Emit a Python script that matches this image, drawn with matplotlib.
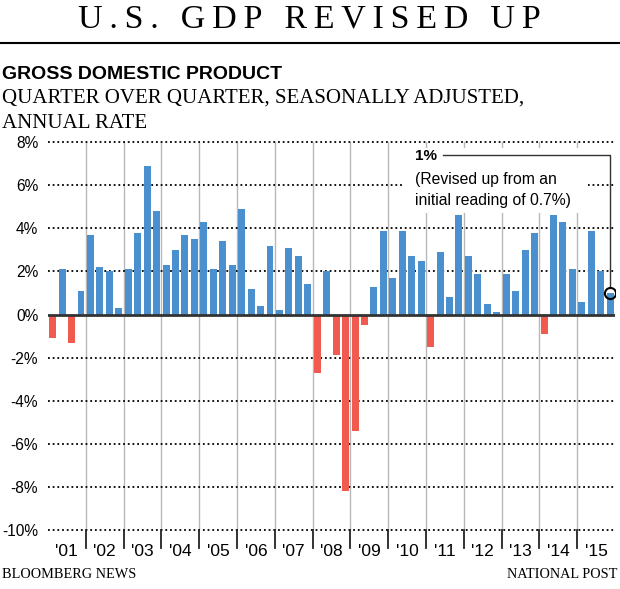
import numpy as np
import matplotlib.pyplot as plt
from matplotlib.lines import Line2D
from matplotlib.patches import Rectangle

# quarterly GDP growth, 2001 Q1 .. 2015 Q4 (annual rate, %)
year_labels = ["'01", "'02", "'03", "'04", "'05", "'06", "'07", "'08",
               "'09", "'10", "'11", "'12", "'13", "'14", "'15"]
gdp_growth = [
    -1.1, 2.1, -1.3, 1.1,
    3.7, 2.2, 2.0, 0.3,
    2.1, 3.8, 6.9, 4.8,
    2.3, 3.0, 3.7, 3.5,
    4.3, 2.1, 3.4, 2.3,
    4.9, 1.2, 0.4, 3.2,
    0.2, 3.1, 2.7, 1.4,
    -2.7, 2.0, -1.9, -8.2,
    -5.4, -0.5, 1.3, 3.9,
    1.7, 3.9, 2.7, 2.5,
    -1.5, 2.9, 0.8, 4.6,
    2.7, 1.9, 0.5, 0.1,
    1.9, 1.1, 3.0, 3.8,
    -0.9, 4.6, 4.3, 2.1,
    0.6, 3.9, 2.0, 1.0,
]
y_ticks = [-10, -8, -6, -4, -2, 0, 2, 4, 6, 8]

BLUE = '#4a8fce'
RED = '#f15a4f'
SANS = ['Liberation Sans', 'DejaVu Sans']
SERIF = ['Liberation Serif', 'DejaVu Serif']

plt.rcParams['font.family'] = SANS

fig = plt.figure(figsize=(6.2, 5.89), dpi=100)
ax = fig.add_axes([0.0773, 0.1002, 0.9145, 0.6583])

x = np.arange(len(gdp_growth))
colors = [BLUE if v >= 0 else RED for v in gdp_growth]
ax.bar(x, gdp_growth, width=0.74, color=colors, zorder=3)

ax.set_xlim(-0.5, len(gdp_growth) - 0.5)
ax.set_ylim(y_ticks[0], y_ticks[-1])

# dotted grid + solid zero line
for v in y_ticks:
    if v != 0:
        ax.axhline(v, color='black', lw=1.3, ls=(0, (1, 1.6)), zorder=1, clip_on=False)
ax.axhline(0, color='#333333', lw=2, zorder=4)

# year separators, ticks and labels
for k, lab in enumerate(year_labels):
    if k > 0:
        b = 4 * k - 0.5
        ax.plot([b, b], [y_ticks[0], y_ticks[-1]], color='#b8b8b8', lw=1, zorder=0)
        ax.plot([b, b], [y_ticks[0], y_ticks[0] - 0.85], color='#222222', lw=1.3,
                clip_on=False)
    ax.text(4 * k + 1.5, -11.0, lab, ha='center', va='center', fontsize=12.5)

ax.set_yticks(y_ticks)
ax.set_yticklabels([f'{v}%' for v in y_ticks])
ax.tick_params(axis='y', length=0, pad=7, labelsize=11.2)
ax.set_xticks([])
for s in ax.spines.values():
    s.set_visible(False)

# annotation for the latest quarter
last = len(gdp_growth) - 1
ax.add_patch(Rectangle((37.1, 4.72), 19.5, 3.0, fc='white', ec='none', zorder=2))
ax.text(38.35, 7.36, '1%', fontsize=11, fontweight='bold', va='center', ha='left', zorder=5)
ax.text(38.35, 6.29, '(Revised up from an', fontsize=11.3, va='center', ha='left', zorder=5)
ax.text(38.35, 5.31, 'initial reading of 0.7%)', fontsize=11.3, va='center', ha='left',
        zorder=5)
ax.plot([41.3, last, last], [7.41, 7.41, gdp_growth[last] + 0.25], color='#333333',
        lw=1, zorder=5)
ax.plot(last, gdp_growth[last], 'o', ms=8, mfc='none', mec='black', mew=1.5, zorder=6)

# header
fig.text(0.499, 0.954, '\u2009'.join('U.S. GDP REVISED UP'), ha='center', va='baseline',
         fontsize=24.5, family=SERIF)
fig.add_artist(Line2D([0, 1], [0.9275, 0.9275], color='black', lw=1.5))
fig.text(0.003, 0.8659, 'GROSS DOMESTIC PRODUCT', fontsize=14, fontweight='bold',
         va='baseline', ha='left')
fig.text(0.003, 0.8251, 'QUARTER OVER QUARTER, SEASONALLY ADJUSTED,', fontsize=15,
         va='baseline', ha='left', family=SERIF)
fig.text(0.003, 0.7827, 'ANNUAL RATE', fontsize=15, va='baseline', ha='left', family=SERIF)

# footer
fig.text(0.003, 0.0182, 'BLOOMBERG NEWS', fontsize=10.3, va='baseline', ha='left', family=SERIF)
fig.text(0.995, 0.0182, 'NATIONAL POST', fontsize=10.3, va='baseline', ha='right', family=SERIF)

fig.savefig('out.png', dpi=100)
